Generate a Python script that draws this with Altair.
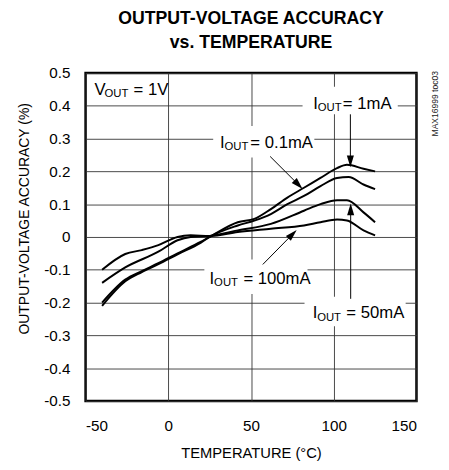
import altair as alt
import pandas as pd

FONT = "Liberation Sans"

# ---- curve data (temperature degC, accuracy %) ----
t_1ma = [-40, -26, -16, -6, 5.6, 19.5, 25, 42, 52, 62, 72, 82, 92, 102, 108, 118, 125]
v_1ma = [-0.20, -0.13, -0.104, -0.08, -0.05, -0.015, 0.0, 0.045, 0.055, 0.085, 0.12, 0.15, 0.18, 0.21, 0.22, 0.208, 0.20]
t_01ma = [-40, -26, -16, -6, 5.6, 19.5, 25, 42, 52, 62, 72, 82, 92, 102, 109, 118, 125]
v_01ma = [-0.21, -0.135, -0.107, -0.083, -0.053, -0.018, 0.0, 0.035, 0.05, 0.07, 0.10, 0.125, 0.155, 0.18, 0.183, 0.16, 0.146]
t_50ma = [-40, -26, -6, 5.6, 13.5, 25, 42, 62, 82, 92, 102, 108, 118, 125]
v_50ma = [-0.14, -0.093, -0.045, -0.01, 0.0, 0.003, 0.02, 0.04, 0.08, 0.10, 0.112, 0.112, 0.075, 0.045]
t_100ma = [-40, -26, -16, -6, 5.6, 13.5, 25, 42, 62, 82, 92, 102, 108, 118, 125]
v_100ma = [-0.10, -0.052, -0.04, -0.025, 0.0, 0.005, 0.003, 0.015, 0.025, 0.035, 0.045, 0.053, 0.05, 0.02, 0.005]

x_ticks = [-50, 0, 50, 100, 150]
y_ticks = [-0.5, -0.4, -0.3, -0.2, -0.1, 0, 0.1, 0.2, 0.3, 0.4, 0.5]

rows = []
for name, ts, vs in [("1mA", t_1ma, v_1ma), ("0.1mA", t_01ma, v_01ma),
                     ("50mA", t_50ma, v_50ma), ("100mA", t_100ma, v_100ma)]:
    for t, v in zip(ts, vs):
        rows.append({"series": name, "T": t, "v": v})
curves = pd.DataFrame(rows)

# ---- annotation text pieces (main letter, subscript, remainder) ----
lbl_text = ["V", "OUT", "= 1V",
            "I", "OUT", "= 1mA",
            "I", "OUT", "= 0.1mA",
            "I", "OUT", "= 100mA",
            "I", "OUT", "= 50mA"]
lbl_T = [-44.66, -38.5, -21.0,
         87.69, 90.4, 105.5,
         31.31, 34.0, 49.6,
         24.96, 27.7, 45.4,
         87.27, 90.0, 107.6]
lbl_v = [0.4341, 0.4271, 0.4341,
         0.3901, 0.3831, 0.3901,
         0.2725, 0.2655, 0.2725,
         -0.1437, -0.1507, -0.1437,
         -0.2485, -0.2555, -0.2485]
lbl_size = [17, 11.5, 17] * 5
labels = pd.DataFrame({"text": lbl_text, "T": lbl_T, "v": lbl_v, "size": lbl_size})

# white boxes behind labels (break the grid lines)
box_T1 = [81.16, 27.15, 21.81, 82.35]
box_T2 = [138.7, 88.28, 84.15, 143.47]
box_v1 = [0.458, 0.3383, -0.0689, -0.1826]
box_v2 = [0.374, 0.2425, -0.1737, -0.2725]
boxes = pd.DataFrame({"T1": box_T1, "T2": box_T2, "v1": box_v1, "v2": box_v2})

# arrows: shaft start -> arrowhead centre, plus head angle
arr_T1 = [110.06, 61.57, 57.12, 110.24]
arr_v1 = [0.374, 0.2455, -0.0838, -0.1886]
arr_T2 = [110.06, 78.66, 75.1, 110.24]
arr_v2 = [0.2305, 0.1593, 0.0084, 0.0838]
arr_angle = [180, 135, 45, 0]
arrows = pd.DataFrame({"T1": arr_T1, "v1": arr_v1, "T2": arr_T2, "v2": arr_v2, "angle": arr_angle})

note = pd.DataFrame({"T": [161.3], "v": [0.506], "text": ["MAX16999 toc03"]})

xscale = alt.Scale(domain=[-50, 150], nice=False, zero=False)
yscale = alt.Scale(domain=[-0.5, 0.5], nice=False, zero=False)

x_axis = alt.Axis(
    values=x_ticks, tickCount=len(x_ticks), title="TEMPERATURE (°C)", grid=True,
    labelOverlap=False,
    labelExpr="(datum.value < 0 ? '-' : '') + format(abs(datum.value), 'd')",
    labelPadding=18, titleY=58, titleBaseline="alphabetic", titleFontSize=15)
y_axis = alt.Axis(
    values=y_ticks, tickCount=len(y_ticks), title="OUTPUT-VOLTAGE ACCURACY (%)", grid=True,
    labelOverlap=False,
    labelExpr="abs(datum.value) < 1e-9 ? '0' : (datum.value < 0 ? '-' : '') + format(abs(datum.value), '.1f')",
    labelPadding=16, titleFontSize=14.2,
    titleX=-62, titleY=148, titleAngle=270, titleAlign="center", titleBaseline="middle")


def X(field):
    return alt.X(field, scale=xscale, axis=x_axis)


def Y(field):
    return alt.Y(field, scale=yscale, axis=y_axis)


lines = alt.Chart(curves).mark_line(
    interpolate="monotone", color="black", strokeWidth=2
).encode(x=X("T:Q"), y=Y("v:Q"), detail="series:N")

box_layer = alt.Chart(boxes).mark_rect(fill="white").encode(
    x=X("T1:Q"), x2="T2", y=Y("v1:Q"), y2="v2")

shafts = alt.Chart(arrows).mark_rule(color="black", strokeWidth=1).encode(
    x=X("T1:Q"), y=Y("v1:Q"), x2="T2", y2="v2")

heads = alt.Chart(arrows).mark_point(
    shape="M0,-1L0.6,1L-0.6,1Z", filled=True, color="black", size=144, opacity=1
).encode(x=X("T2:Q"), y=Y("v2:Q"), angle=alt.Angle("angle:Q", scale=None))

texts = alt.Chart(labels).mark_text(
    font=FONT, align="left", baseline="alphabetic", color="black"
).encode(x=X("T:Q"), y=Y("v:Q"), text="text:N",
         size=alt.Size("size:Q", scale=None))

note_layer = alt.Chart(note).mark_text(
    font=FONT, fontSize=8.7, angle=270, align="right", baseline="middle", color="#222"
).encode(x=X("T:Q"), y=Y("v:Q"), text="text:N")

chart = alt.layer(box_layer, lines, shafts, heads, texts, note_layer).properties(
    width=337, height=334,
    autosize=alt.AutoSizeParams(type="none"),
    padding={"left": 79, "top": 62, "right": 25, "bottom": 58},
    title=alt.TitleParams(
        text=["OUTPUT-VOLTAGE ACCURACY", "vs. TEMPERATURE"],
        font=FONT, fontSize=18, fontWeight="bold", color="black",
        anchor="middle", frame="group", offset=14, lineHeight=25),
).configure_view(
    stroke="black", strokeWidth=2.5
).configure_axis(
    domain=False, ticks=False, gridColor="#333", gridWidth=0.9, gridOpacity=1,
    labelFont=FONT, labelFontSize=15.5, labelColor="black",
    titleFont=FONT, titleFontWeight="normal", titleColor="black",
)

chart.save("out.html", embed_options={"renderer": "svg", "actions": False})
